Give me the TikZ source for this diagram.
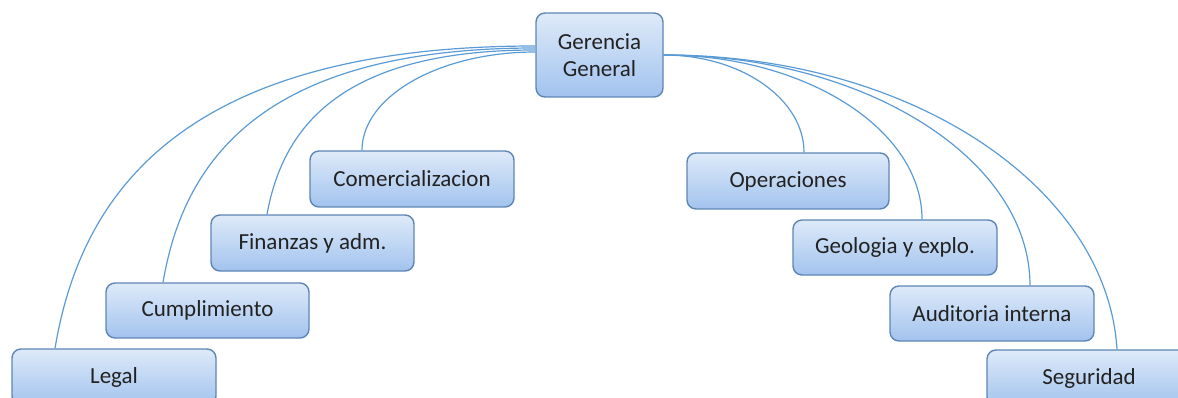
\documentclass[tikz,border=0pt]{standalone}
\usepackage{fontspec}
\setmainfont{Carlito}
\definecolor{boxtop}{HTML}{DEEAF9}
\definecolor{boxbot}{HTML}{A2C3EE}
\definecolor{boxline}{HTML}{5E86B4}
\definecolor{linkcol}{HTML}{5B9BD5}
\definecolor{txtcol}{HTML}{222222}
\tikzset{
  orgbox/.style={draw=boxline, line width=1.4pt, rounded corners=9pt,
    top color=boxtop, bottom color=boxbot, text=txtcol,
    minimum width=204pt, minimum height=56pt, inner sep=0pt,
    align=center, font=\fontsize{23}{27}\selectfont},
  link/.style={draw=linkcol, line width=1.2pt}
}
\begin{document}
\begin{tikzpicture}[x=1pt,y=-1pt]
\useasboundingbox (0,0) rectangle (1178,398);
% nodes
\node[orgbox, minimum width=127pt, minimum height=84pt] (gg) at (599.5,55) {Gerencia\\General};
\node[orgbox] (com) at (412,179) {Comercializacion};
\node[orgbox, minimum width=203pt] (fin) at (312.5,243) {Finanzas y adm.};
\node[orgbox, minimum width=203pt, minimum height=55pt] (cum) at (207.5,310.5) {Cumplimiento};
\node[orgbox] (legal) at (114,377) {Legal};
\node[orgbox, minimum width=202pt] (ope) at (788,181) {Operaciones};
\node[orgbox, minimum height=55pt] (geo) at (895,247.5) {Geologia y explo.};
\node[orgbox, minimum height=55pt] (aud) at (992,313.5) {Auditoria interna};
\node[orgbox] (seg) at (1089,378) {Seguridad};
% left connectors
\draw[link] ([yshift=9pt]gg.west) .. controls (176,46) and (80,199) .. ([xshift=-59pt]legal.north);
\draw[link] ([yshift=7pt]gg.west) .. controls (256,48) and (183,166) .. ([xshift=-44.5pt]cum.north);
\draw[link] ([yshift=5pt]gg.west) .. controls (334,50) and (282,133) .. ([xshift=-45.5pt]fin.north);
\draw[link] ([yshift=3pt]gg.west) .. controls (440,52) and (362,96) .. ([xshift=-50pt]com.north);
% right connectors
\draw[link] (gg.east) .. controls (741,55) and (804,99) .. ([xshift=16pt]ope.north);
\draw[link] (gg.east) .. controls (805,55) and (922,129) .. ([xshift=27pt]geo.north);
\draw[link] (gg.east) .. controls (865,55) and (1030,159) .. ([xshift=38pt]aud.north);
\draw[link] (gg.east) .. controls (913,55) and (1107,188) .. ([xshift=28pt]seg.north);
\end{tikzpicture}
\end{document}
